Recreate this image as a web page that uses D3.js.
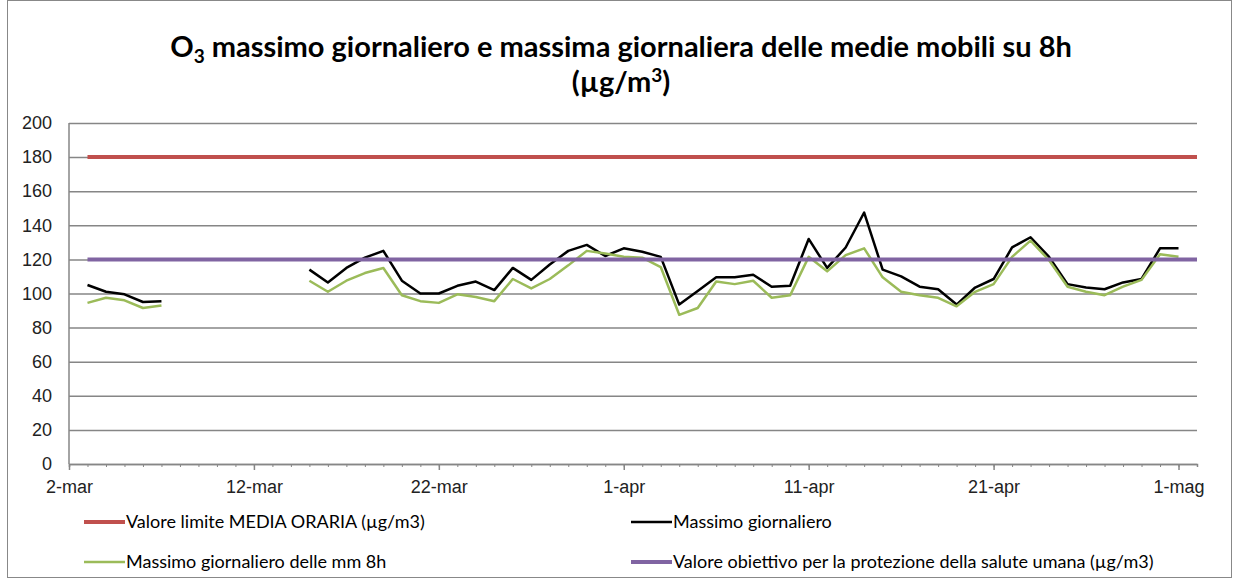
<!DOCTYPE html>
<html>

<head>
    <meta charset="utf-8">
    <style>
        body { margin: 0; background: #fff; }
        svg { font-family: Lato, "Open Sans", sans-serif; }
        .grid line { stroke: #868686; stroke-width: 1.5; }
        .tick text { fill: #222; font-size: 18px; }
    </style>
    <script src="https://cdnjs.cloudflare.com/ajax/libs/d3/7.8.5/d3.min.js"></script>
    <title>O3 massimo giornaliero</title>
</head>

<body>
    <script>

        const width = 1239;
        const height = 581;

        // days from 3-mar to 1-mag
        const firstDay = "2015-03-03";
        const lastDay = "2015-05-01";

        // Massimo giornaliero
        const maxDaily = [105, 101, 99.5, 95, 95.5,
            null, null, null, null, null, null, null,
            114, 106.5, 115, 121, 125, 107.5, 100, 100, 104.5, 107, 102, 115, 108, 117, 125, 128.5, 122,
            126.5, 124.5, 121.5, 93.5, 101.5, 109.5, 109.5, 111, 104, 104.5,
            132, 115, 127, 147.5, 114, 110, 104, 102.5, 93.5, 103.5,
            108.5, 127, 133, 121.5, 105.5, 103.5, 102.5, 106.5, 108.5, 126.5,
            126.5];

        // Massimo giornaliero delle mm 8h
        const maxMm8h = [94.5, 97.5, 96, 91.5, 93,
            null, null, null, null, null, null, null,
            107.5, 101, 107.5, 112, 115, 99, 95.5, 94.5, 99.5, 98, 95.5, 108.5, 103, 108.5, 116.5, 125, 123.5,
            121.5, 121, 115.5, 87.5, 91.5, 107, 105.5, 107.5, 97.5, 99,
            121.5, 113, 122.5, 126.5, 109.5, 101, 99, 97.5, 92.5, 101,
            105.5, 121.5, 131, 119.5, 104, 101, 99, 104, 108, 123,
            121.5];

        const limitHourly = 180;   // Valore limite MEDIA ORARIA
        const targetValue = 120;   // Valore obiettivo

        const yTicks = [0, 20, 40, 60, 80, 100, 120, 140, 160, 180, 200];
        const xTickDates = ["2015-03-02", "2015-03-12", "2015-03-22", "2015-04-01", "2015-04-11", "2015-04-21", "2015-05-01"];
        const xTickLabels = ["2-mar", "12-mar", "22-mar", "1-apr", "11-apr", "21-apr", "1-mag"];

        const legendNames = [
            "Valore limite MEDIA ORARIA (µg/m3)",
            "Massimo giornaliero",
            "Massimo giornaliero delle mm 8h",
            "Valore obiettivo per la protezione della salute umana (µg/m3)"
        ];
        const colors = ["#C0504D", "#000000", "#9BBB59", "#8064A2"];
        const widths = [4, 2.5, 2.5, 4];

        const parse = d3.timeParse("%Y-%m-%d");
        const days = d3.timeDay.range(parse(firstDay), d3.timeDay.offset(parse(lastDay), 1));

        const margin = { left: 69, right: 1197, top: 123, bottom: 464 };

        const x = d3.scaleTime()
            .domain([parse("2015-03-02"), parse("2015-05-02")])
            .range([margin.left, margin.right]);
        const y = d3.scaleLinear()
            .domain([0, 200])
            .range([margin.bottom, margin.top]);

        const svg = d3.select("body").append("svg")
            .attr("width", width).attr("height", height);

        // chart border
        svg.append("rect")
            .attr("x", 7.5).attr("y", 0.5)
            .attr("width", 1224).attr("height", 577)
            .style("fill", "none").style("stroke", "#888").style("stroke-width", 1);

        // title
        const title = svg.append("text")
            .attr("text-anchor", "middle")
            .style("font-weight", "bold").style("font-size", "29px").style("fill", "#000");
        const t1 = title.append("tspan").attr("x", 621).attr("y", 57);
        t1.append("tspan").text("O");
        t1.append("tspan").attr("dy", 6).style("font-size", "19px").text("3");
        t1.append("tspan").attr("dy", -6).text(" massimo giornaliero e massima giornaliera delle medie mobili su 8h");
        const t2 = title.append("tspan").attr("x", 621).attr("y", 92);
        t2.append("tspan").text("(µg/m");
        t2.append("tspan").attr("dy", -10).style("font-size", "19px").text("3");
        t2.append("tspan").attr("dy", 10).text(")");

        // y gridlines + labels
        svg.append("g").attr("class", "grid")
            .attr("transform", `translate(${margin.left},0)`)
            .call(d3.axisLeft(y).tickValues(yTicks).tickSize(-(margin.right - margin.left)).tickPadding(17))
            .call(g => g.select(".domain").remove());

        svg.append("line")
            .attr("x1", margin.left).attr("x2", margin.left)
            .attr("y1", margin.top).attr("y2", margin.bottom)
            .style("stroke", "#868686").style("stroke-width", 1.5);

        // x axis: minor daily ticks
        svg.append("g")
            .attr("transform", `translate(0,${margin.bottom})`)
            .call(d3.axisBottom(x).ticks(d3.timeDay.every(1)).tickSize(3).tickFormat(""))
            .call(g => g.select(".domain").attr("stroke", "#868686").attr("stroke-width", 1.5))
            .call(g => g.selectAll(".tick line").attr("stroke", "#868686"));

        // x axis: major ticks + labels
        svg.append("g")
            .attr("transform", `translate(0,${margin.bottom})`)
            .call(d3.axisBottom(x).tickValues(xTickDates.map(parse)).tickSize(6).tickPadding(10)
                .tickFormat((d, i) => xTickLabels[i]))
            .call(g => g.select(".domain").remove())
            .call(g => g.selectAll(".tick line").attr("stroke", "#868686").attr("stroke-width", 1.5));

        // reference lines
        const refSpan = [parse(firstDay), parse("2015-05-02")];
        const flat = d3.line().x(d => x(d[0])).y(d => y(d[1]));

        svg.append("path")
            .datum(refSpan.map(d => [d, limitHourly]))
            .attr("d", flat)
            .style("fill", "none").style("stroke", colors[0]).style("stroke-width", widths[0]);

        const line = d3.line()
            .defined(d => d[1] != null)
            .x(d => x(d[0])).y(d => y(d[1]));

        [maxDaily, maxMm8h].forEach((vals, k) => {
            svg.append("path")
                .datum(days.map((d, i) => [d, vals[i]]))
                .attr("d", line)
                .style("fill", "none")
                .style("stroke", colors[k + 1])
                .style("stroke-width", widths[k + 1])
                .style("stroke-linejoin", "round");
        });

        svg.append("path")
            .datum(refSpan.map(d => [d, targetValue]))
            .attr("d", flat)
            .style("fill", "none").style("stroke", colors[3]).style("stroke-width", widths[3]);

        // legend
        const legendPos = [[84, 522], [631, 522], [84, 562], [631, 562]];
        const legend = svg.selectAll("g.legend")
            .data(legendNames)
            .enter().append("g")
            .attr("class", "legend")
            .attr("transform", (d, i) => `translate(${legendPos[i][0]},${legendPos[i][1]})`);
        legend.append("line")
            .attr("x1", 0).attr("x2", 41)
            .style("stroke", (d, i) => colors[i])
            .style("stroke-width", (d, i) => i === 1 || i === 2 ? 2.5 : 4);
        legend.append("text")
            .attr("x", 42).attr("dy", "0.35em")
            .style("font-size", "18px").style("fill", "#000")
            .text(d => d);

    </script>
</body>

</html>
